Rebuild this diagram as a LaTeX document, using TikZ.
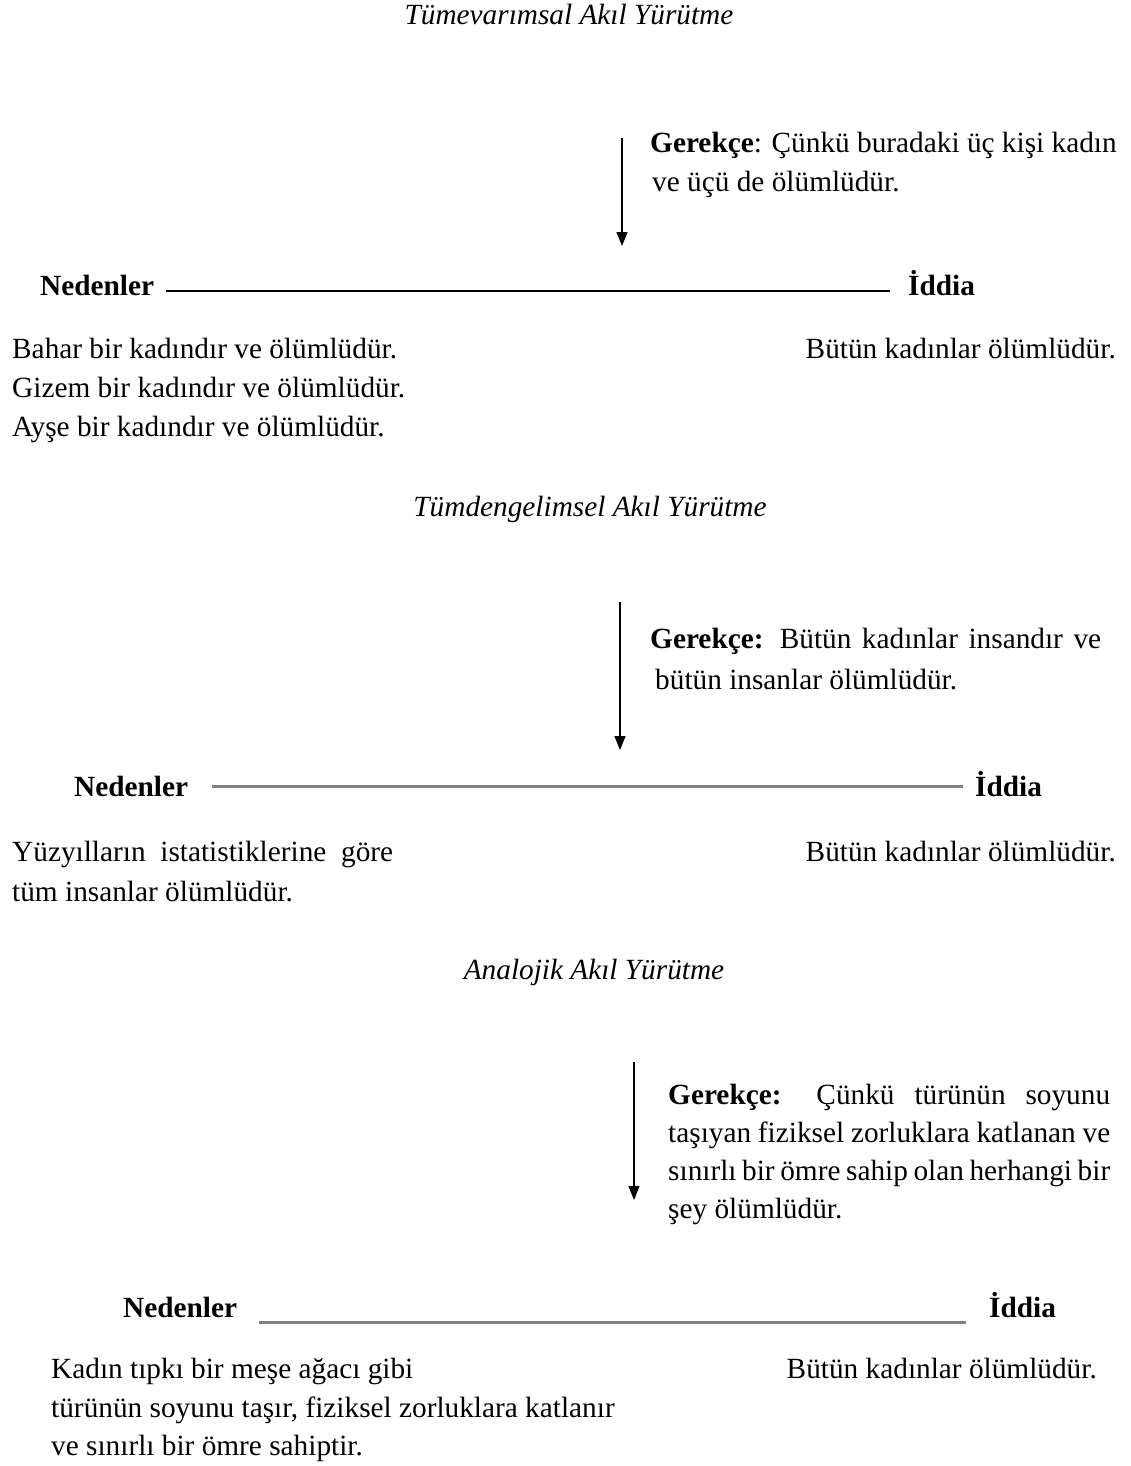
\documentclass[tikz,border=0pt]{standalone}
\usepackage{fontspec}
\setmainfont{Liberation Serif}
\usetikzlibrary{arrows.meta}
\begin{document}
\begin{tikzpicture}[x=1pt,y=-1pt,
  txt/.style={inner sep=0pt, font=\fontsize{29.3}{39}\selectfont},
  ttl/.style={inner sep=0pt, font=\fontsize{29.3}{39}\selectfont\itshape},
  hdr/.style={inner sep=0pt, font=\fontsize{29.3}{39}\selectfont\bfseries},
  blackline/.style={line width=2pt},
  grayline/.style={line width=3pt, draw=black!50},
  warrant/.style={-{Triangle[length=14pt,width=11pt]}, line width=1.3pt}]
\useasboundingbox (0,0) rectangle (1131,1466);

% ---------- Tümevarımsal ----------
\node[ttl, anchor=base] (t1) at (569,25) {Tümevarımsal Akıl Yürütme};
\coordinate (w1s) at (622,138);
\coordinate (w1e) at (622,246);
\draw[warrant] (w1s) -- (w1e);
\node[txt, anchor=base west] (g1a) at (650,153) {\textbf{Gerekçe}: Çünkü buradaki üç kişi kadın};
\node[txt, anchor=base west] (g1b) at (652,192) {ve üçü de ölümlüdür.};
\node[hdr, anchor=base west] (n1) at (40,295) {Nedenler};
\node[hdr, anchor=base west] (i1) at (908,295) {İddia};
\draw[blackline] ([shift={(12,-4)}]n1.base east) -- ([shift={(-18,-4)}]i1.base west);
\node[txt, anchor=base west] (r1a) at (12,358) {Bahar bir kadındır ve ölümlüdür.};
\node[txt, anchor=base west] (r1b) at (12,397) {Gizem bir kadındır ve ölümlüdür.};
\node[txt, anchor=base west] (r1c) at (12,436) {Ayşe bir kadındır ve ölümlüdür.};
\node[txt, anchor=base east] (c1) at (1116,358) {Bütün kadınlar ölümlüdür.};

% ---------- Tümdengelimsel ----------
\node[ttl, anchor=base] (t2) at (590,516) {Tümdengelimsel Akıl Yürütme};
\coordinate (w2s) at (620,602);
\coordinate (w2e) at (620,750);
\draw[warrant] (w2s) -- (w2e);
\node[txt, anchor=base west] (g2a) at (650,648) {\makebox[451pt][s]{\textbf{Gerekçe:} Bütün kadınlar insandır ve}};
\node[txt, anchor=base west] (g2b) at (655,689) {bütün insanlar ölümlüdür.};
\node[hdr, anchor=base west] (n2) at (74,796) {Nedenler};
\node[hdr, anchor=base west] (i2) at (975,796) {İddia};
\draw[grayline] ([shift={(24,-10)}]n2.base east) -- ([shift={(-12,-10)}]i2.base west);
\node[txt, anchor=base west] (r2a) at (12,861) {\makebox[381pt][s]{Yüzyılların istatistiklerine göre}};
\node[txt, anchor=base west] (r2b) at (12,901) {tüm insanlar ölümlüdür.};
\node[txt, anchor=base east] (c2) at (1116,861) {Bütün kadınlar ölümlüdür.};

% ---------- Analojik ----------
\node[ttl, anchor=base] (t3) at (594,979) {Analojik Akıl Yürütme};
\coordinate (w3s) at (634,1062);
\coordinate (w3e) at (634,1200);
\draw[warrant] (w3s) -- (w3e);
\node[txt, anchor=base west] (g3a) at (668,1104) {\makebox[442pt][s]{\textbf{Gerekçe:} Çünkü türünün soyunu}};
\node[txt, anchor=base west] (g3b) at (668,1142) {\makebox[442pt][s]{taşıyan fiziksel zorluklara katlanan ve}};
\node[txt, anchor=base west] (g3c) at (668,1180) {\makebox[442pt][s]{sınırlı bir ömre sahip olan herhangi bir}};
\node[txt, anchor=base west] (g3d) at (668,1218) {şey ölümlüdür.};
\node[hdr, anchor=base west] (n3) at (123,1317) {Nedenler};
\node[hdr, anchor=base west] (i3) at (989,1317) {İddia};
\draw[grayline] ([shift={(22,5)}]n3.base east) -- ([shift={(-23,5)}]i3.base west);
\node[txt, anchor=base west] (r3a) at (51,1378) {Kadın tıpkı bir meşe ağacı gibi};
\node[txt, anchor=base west] (r3b) at (51,1417) {türünün soyunu taşır, fiziksel zorluklara katlanır};
\node[txt, anchor=base west] (r3c) at (51,1455) {ve sınırlı bir ömre sahiptir.};
\node[txt, anchor=base east] (c3) at (1097,1378) {Bütün kadınlar ölümlüdür.};
\end{tikzpicture}
\end{document}
